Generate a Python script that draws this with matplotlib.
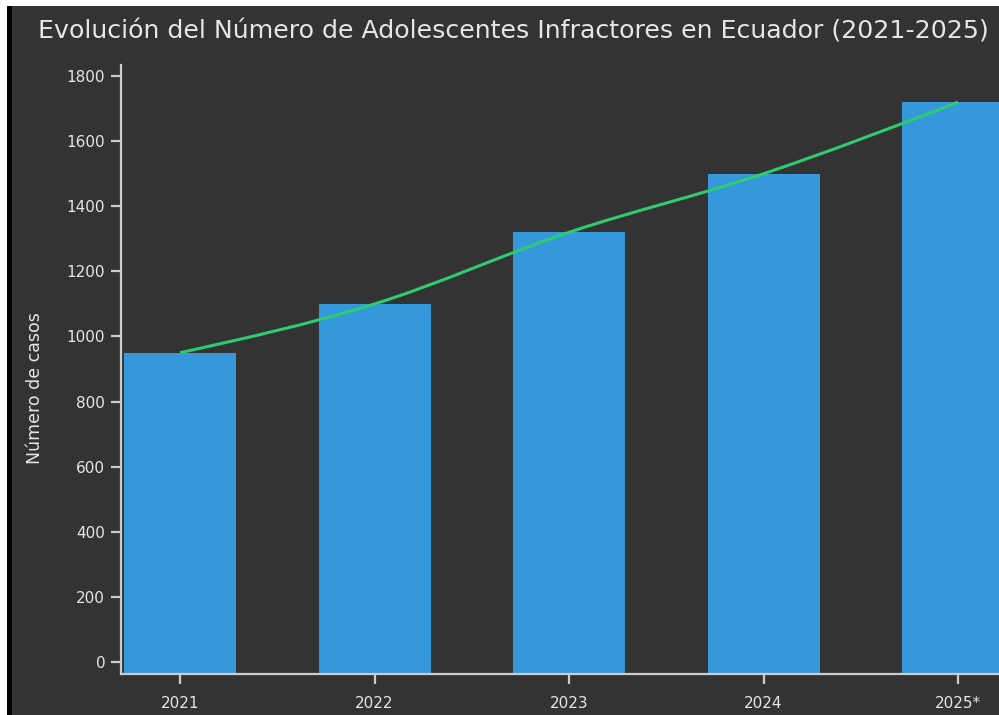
import matplotlib
matplotlib.use("Agg")
import matplotlib.pyplot as plt
import numpy as np
from matplotlib.path import Path
from matplotlib.patches import PathPatch, Rectangle

# Data
years = ["2021", "2022", "2023", "2024", "2025*"]
cases = [950, 1100, 1320, 1500, 1720]
y_ticks = [0, 200, 400, 600, 800, 1000, 1200, 1400, 1600, 1800]

title = "Evolución del Número de Adolescentes Infractores en Ecuador (2021-2025)"
y_label = "Número de casos"

bg = "#333333"
bar_color = "#3498db"
line_color = "#2ecc71"
axis_color = "#cccccc"
text_color = "#e6e6e6"

plt.rcParams['font.family'] = ['DejaVu Sans']


def monotone_path(xs, ys):
    # smooth monotone curve (same idea as d3.curveMonotoneX), drawn as cubic beziers
    xs = np.asarray(xs, float)
    ys = np.asarray(ys, float)
    n = len(xs)
    h = np.diff(xs)
    s = np.diff(ys) / h
    t = np.zeros(n)
    for i in range(1, n - 1):
        p = (s[i - 1] * h[i] + s[i] * h[i - 1]) / (h[i - 1] + h[i])
        t[i] = (np.sign(s[i - 1]) + np.sign(s[i])) * min(abs(s[i - 1]), abs(s[i]), 0.5 * abs(p))
    t[0] = (3 * s[0] - t[1]) / 2
    t[-1] = (3 * s[-1] - t[-2]) / 2
    verts = [(xs[0], ys[0])]
    codes = [Path.MOVETO]
    for i in range(n - 1):
        dx = (xs[i + 1] - xs[i]) / 3
        verts += [(xs[i] + dx, ys[i] + dx * t[i]),
                  (xs[i + 1] - dx, ys[i + 1] - dx * t[i + 1]),
                  (xs[i + 1], ys[i + 1])]
        codes += [Path.CURVE4] * 3
    return Path(verts, codes)


fig = plt.figure(figsize=(9.99, 7.15), dpi=100, facecolor=bg)

# axes reaches past the right edge, like the cropped screenshot
W, H = 999, 715
left_px, right_px, top_px, bottom_px = 120.5, 1017.6, 65, 674
ax = fig.add_axes([left_px / W, 1 - bottom_px / H,
                   (right_px - left_px) / W, (bottom_px - top_px) / H])
ax.set_facecolor(bg)

x = np.arange(len(years))
y_bottom = -37
ax.bar(x, np.array(cases) - y_bottom, bottom=y_bottom, width=0.576,
       color=bar_color, zorder=2)

ax.add_patch(PathPatch(monotone_path(x, cases), facecolor="none",
                       edgecolor=line_color, linewidth=2.2, zorder=3))

ax.set_xlim(-0.306, len(years) - 1 + 0.306)
ax.set_ylim(y_bottom, 1834)

ax.set_xticks(x)
ax.set_xticklabels(years)
ax.set_yticks(y_ticks)

for side in ["top", "right"]:
    ax.spines[side].set_visible(False)
for side in ["left", "bottom"]:
    ax.spines[side].set_color(axis_color)
    ax.spines[side].set_linewidth(1.6)

ax.tick_params(axis="both", colors=axis_color, labelcolor=text_color,
               labelsize=11, length=7, width=1.6, pad=4)
ax.tick_params(axis="x", pad=9)

ax.set_ylabel(y_label, color=text_color, fontsize=12.5)
ax.yaxis.set_label_coords(-0.085, 0.47)

fig.text(513 / W, 1 - 31 / H, title, color=text_color, fontsize=18.2,
         ha="center", va="center")

# border strips from the screenshot
fig.patches.append(Rectangle((0, 1 - 6 / H), 1, 6 / H, transform=fig.transFigure,
                             facecolor="white", edgecolor="none", zorder=10))
fig.patches.append(Rectangle((0, 0), 7 / W, 1, transform=fig.transFigure,
                             facecolor="white", edgecolor="none", zorder=10))
fig.patches.append(Rectangle((7 / W, 0), 5 / W, 1 - 6 / H, transform=fig.transFigure,
                             facecolor="black", edgecolor="none", zorder=10))

fig.savefig("out.png", dpi=100, facecolor=bg)
